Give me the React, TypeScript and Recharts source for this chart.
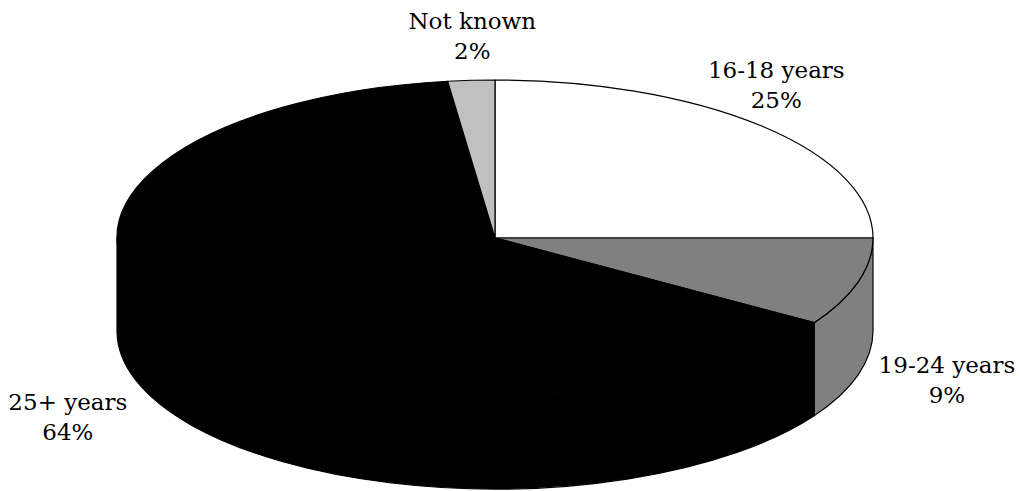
import { PieChart, Pie } from 'recharts';

const categories = ['16-18 years', '19-24 years', '25+ years', 'Not known'];
const shares = [25, 9, 64, 2];
const sliceColors = ['#ffffff', '#808080', '#000000', '#c0c0c0'];

const WIDTH = 1020;
const HEIGHT = 491;
const TILT = 158 / 378; // vertical squash of the disc
const DEPTH = 93; // thickness of the disc in px
const FONT = '"DejaVu Serif", serif';
const RAD = Math.PI / 180;

// label centre relative to the rim point at each slice's mid angle
const labelShift = [
  [14, -40],
  [89, 6],
  [-108, 2],
  [1, -43],
];

const data = categories.map((name, i) => ({ name, value: shares[i], color: sliceColors[i] }));

// front half of the disc (where the wall can be seen), in recharts degrees
function frontPart(lo: number, hi: number): [number, number] | null {
  for (let k = -2; k <= 1; k++) {
    const a = Math.max(lo, -180 + 360 * k);
    const b = Math.min(hi, 360 * k);
    if (b - a > 0.01) return [a, b];
  }
  return null;
}

const renderSlice = (props: any) => {
  const { cx, cy, outerRadius, startAngle, endAngle, index } = props;
  const color = props.color ?? props.payload?.color ?? '#000';
  const rx = outerRadius;
  const ry = outerRadius * TILT;
  const pt = (a: number, yc: number) => `${cx + rx * Math.cos(a * RAD)},${yc - ry * Math.sin(a * RAD)}`;

  const large = Math.abs(endAngle - startAngle) > 180 ? 1 : 0;
  const sweep = startAngle > endAngle ? 1 : 0;
  const top = `M${cx},${cy} L${pt(startAngle, cy)} A${rx},${ry} 0 ${large} ${sweep} ${pt(endAngle, cy)} Z`;

  const lo = Math.min(startAngle, endAngle);
  const hi = Math.max(startAngle, endAngle);
  const front = frontPart(lo, hi);
  let side: string | null = null;
  if (front) {
    const [a, b] = front;
    side =
      `M${pt(b, cy)} A${rx},${ry} 0 0 1 ${pt(a, cy)} L${pt(a, cy + DEPTH)} ` +
      `A${rx},${ry} 0 0 0 ${pt(b, cy + DEPTH)} Z`;
  }

  const mid = (startAngle + endAngle) / 2;
  const s = Math.sin(mid * RAD);
  const rimX = cx + rx * Math.cos(mid * RAD);
  const rimY = cy - ry * s + (s < 0 ? DEPTH : 0);
  const [dx, dy] = labelShift[index] ?? [0, 0];
  const lx = rimX + dx;
  const ly = rimY + dy;

  return (
    <g key={`slice-${index}`}>
      {side && <path d={side} fill={color} stroke="#000" strokeWidth={1.2} strokeLinejoin="round" />}
      <path d={top} fill={color} stroke="#000" strokeWidth={1.2} strokeLinejoin="round" />
      <text x={lx} y={ly - 8} textAnchor="middle" fontFamily={FONT} fontSize={23} fill="#000">
        <tspan x={lx}>{props.name}</tspan>
        <tspan x={lx} dy={30}>{`${props.value}%`}</tspan>
      </text>
    </g>
  );
};

export default function App() {
  return (
    <div style={{ position: 'absolute', left: 0, top: 0, width: WIDTH, height: HEIGHT, background: '#fff' }}>
      <PieChart width={WIDTH} height={HEIGHT} margin={{ top: 0, right: 0, bottom: 0, left: 0 }}>
        <Pie
          data={data}
          dataKey="value"
          nameKey="name"
          cx={495}
          cy={238}
          outerRadius={378}
          startAngle={90}
          endAngle={-270}
          fill="none"
          stroke="none"
          label={renderSlice}
          labelLine={false}
          isAnimationActive={false}
        />
      </PieChart>
    </div>
  );
}
